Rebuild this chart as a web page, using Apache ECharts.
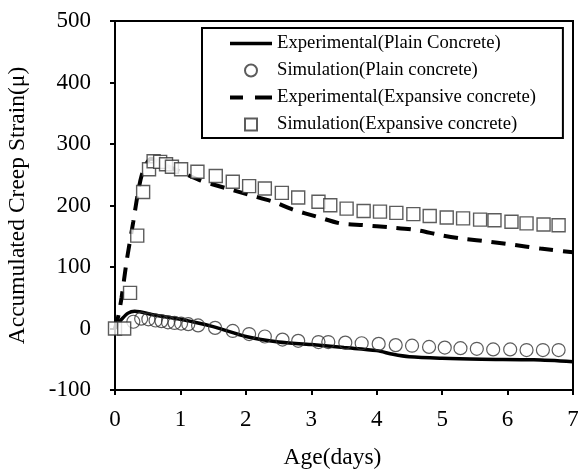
<!DOCTYPE html>
<html>
<head>
<meta charset="utf-8">
<script src="https://cdn.jsdelivr.net/npm/echarts@6/dist/echarts.min.js"></script>
<style>
html,body{margin:0;padding:0;background:#fff;}
#chart{width:578px;height:472px;}
</style>
</head>
<body>
<div id="chart"></div>
<script>
const seriesNames = [
  'Experimental(Plain Concrete)',
  'Simulation(Plain concrete)',
  'Experimental(Expansive concrete)',
  'Simulation(Expansive concrete)'
];
const xTicks = [0, 1, 2, 3, 4, 5, 6, 7];
const yTicks = [-100, 0, 100, 200, 300, 400, 500];

const expPlainX = [0, 0.05, 0.1, 0.2, 0.3, 0.6, 1.0, 1.5, 2.0, 2.5, 3.0, 3.5, 4.0, 4.25, 4.5, 5.0, 5.6, 6.4, 7.0];
const expPlainY = [0, 8, 15, 25, 28, 22, 15, 3, -13, -22, -26, -31, -36, -42, -46, -48.5, -50, -51, -54];

const simPlainX = [0.28, 0.4, 0.51, 0.62, 0.71, 0.81, 0.91, 1.01, 1.12, 1.27, 1.53, 1.8, 2.05, 2.29, 2.56, 2.8, 3.11, 3.26, 3.52, 3.77, 4.03, 4.29, 4.54, 4.8, 5.04, 5.28, 5.53, 5.78, 6.04, 6.29, 6.54, 6.78];
const simPlainY = [11, 16, 15, 13, 12, 10, 9, 8, 7, 5, 1, -4, -9, -13, -18, -20, -22, -22, -23, -24, -25, -27, -28, -30, -31, -32, -33, -34, -34, -35, -35, -35];

const expExpX = [0, 0.05, 0.1, 0.18, 0.28, 0.35, 0.41, 0.48, 0.55, 0.65, 0.8, 1.0, 1.3, 1.7, 2.06, 2.42, 2.73, 3.08, 3.44, 3.8, 4.2, 4.61, 4.97, 5.32, 5.73, 6.09, 6.5, 7.0];
const expExpY = [0, 20, 50, 111, 174, 220, 250, 268, 276, 272, 264, 255, 241, 228, 217, 206, 193, 182, 171, 168, 164.5, 160, 152, 146, 141, 136, 130, 124];

const simExpX = [0, 0.14, 0.23, 0.34, 0.43, 0.52, 0.59, 0.69, 0.78, 0.87, 1.01, 1.26, 1.54, 1.8, 2.05, 2.29, 2.55, 2.8, 3.11, 3.29, 3.54, 3.8, 4.05, 4.3, 4.56, 4.81, 5.07, 5.32, 5.58, 5.8, 6.06, 6.29, 6.55, 6.78];
const simExpY = [0, 0, 58, 151, 222, 259, 272, 271, 267, 263, 259, 255, 248, 238.5, 231.5, 227.6, 220.6, 213, 206, 200.5, 195, 191, 190, 188, 186, 183, 180.5, 179, 177, 176, 173.5, 171, 169, 168];

function zip(xs, ys) { return xs.map((x, i) => [x, ys[i]]); }

const FONT = '"Liberation Serif", "Times New Roman", serif';
const chart = echarts.init(document.getElementById('chart'), null, {renderer: 'canvas'});

chart.setOption({
  animation: false,
  backgroundColor: '#fff',
  grid: {
    left: 115, top: 21, right: 5, bottom: 82,
    outerBoundsMode: 'none', containLabel: false,
    show: true, borderColor: '#000', borderWidth: 2, backgroundColor: 'transparent'
  },
  legend: {
    orient: 'vertical',
    left: 202, top: 28,
    padding: [6, 27, 4, 28],
    itemWidth: 42, itemHeight: 12, itemGap: 8,
    borderColor: '#000', borderWidth: 2,
    backgroundColor: '#fff',
    textStyle: {fontFamily: FONT, fontSize: 18.7, color: '#000'},
    data: [
      {name: seriesNames[0], icon: 'path://M0,0h42v3.5h-42z', itemStyle: {color: '#000'}},
      {name: seriesNames[1], icon: 'circle'},
      {name: seriesNames[2], icon: 'path://M0,0h13v4h-13z M25,0h17v4h-17z', itemStyle: {color: '#000'}},
      {name: seriesNames[3], icon: 'path://M0,0h10v10h-10z'}
    ]
  },
  xAxis: {
    type: 'value', min: 0, max: 7, interval: 1,
    name: 'Age(days)', nameLocation: 'middle', nameGap: 56,
    nameTextStyle: {fontFamily: FONT, fontSize: 23.5, color: '#000', padding: [0, 23, 0, 0]},
    axisLine: {show: true, onZero: false, lineStyle: {color: '#000', width: 2}},
    axisTick: {show: true, inside: false, length: 5, lineStyle: {color: '#000', width: 2}},
    axisLabel: {fontFamily: FONT, fontSize: 23, color: '#000', margin: 18,
      formatter: v => xTicks.includes(v) ? String(v) : ''},
    splitLine: {show: false}
  },
  yAxis: {
    type: 'value', min: -100, max: 500, interval: 100,
    name: 'Accumulated Creep Strain(μ)', nameLocation: 'middle', nameGap: 85,
    nameTextStyle: {fontFamily: FONT, fontSize: 23.5, color: '#000'},
    axisLine: {show: true, onZero: false, lineStyle: {color: '#000', width: 2}},
    axisTick: {show: true, inside: false, length: 5, lineStyle: {color: '#000', width: 2}},
    axisLabel: {fontFamily: FONT, fontSize: 23, color: '#000', margin: 24,
      formatter: v => yTicks.includes(v) ? String(v) : ''},
    splitLine: {show: false}
  },
  series: [
    {
      name: seriesNames[0], type: 'line', data: zip(expPlainX, expPlainY),
      showSymbol: false, symbol: 'none', smooth: 0.3,
      lineStyle: {color: '#000', width: 3.5}, itemStyle: {color: '#000'}, z: 2
    },
    {
      name: seriesNames[1], type: 'scatter', data: zip(simPlainX, simPlainY),
      symbol: 'circle', symbolSize: 13,
      itemStyle: {color: 'rgba(0,0,0,0)', borderColor: '#333', borderWidth: 1.2}, z: 3
    },
    {
      name: seriesNames[2], type: 'line', data: zip(expExpX, expExpY),
      showSymbol: false, symbol: 'none', smooth: 0.3,
      lineStyle: {color: '#000', width: 4, type: [14, 10]}, itemStyle: {color: '#000'}, z: 2
    },
    {
      name: seriesNames[3], type: 'scatter', data: zip(simExpX, simExpY),
      symbol: 'rect', symbolSize: 13,
      itemStyle: {color: '#fff', borderColor: '#333', borderWidth: 1.4}, z: 4
    }
  ]
});
</script>
</body>
</html>
